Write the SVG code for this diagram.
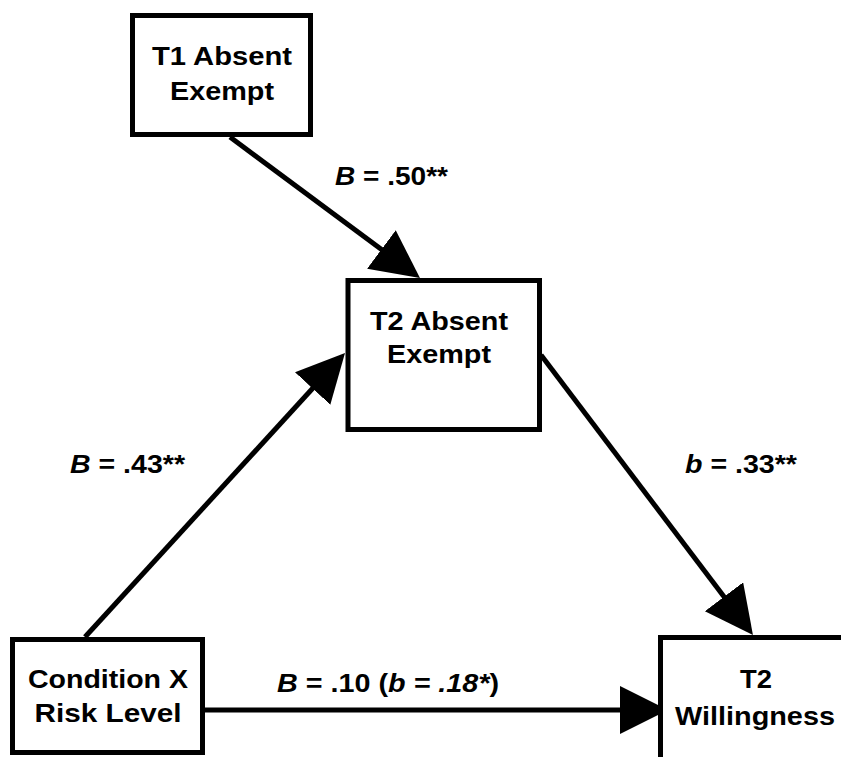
<svg xmlns="http://www.w3.org/2000/svg" width="841" height="757" viewBox="0 0 841 757">
<style>
.box{fill:#fff;stroke:#000;stroke-width:5}
.t{font-family:"Liberation Sans",Arial,sans-serif;font-weight:bold;font-size:25.5px;fill:#000}
.c{text-anchor:middle}
.i{font-style:italic}
.edge{stroke:#000;stroke-width:5;fill:none;marker-end:url(#ah)}
</style>
<defs>
<marker id="ah" markerUnits="userSpaceOnUse" markerWidth="50" markerHeight="50" refX="28" refY="24" orient="auto" viewBox="0 0 50 50">
<path d="M0,0 L48,24 L0,48 z" fill="#000"/>
</marker>
</defs>
<rect width="841" height="757" fill="#fff"/>
<g id="connectors">
<line class="edge" x1="230" y1="137" x2="403.9" y2="266.1"/>
<line class="edge" x1="85" y1="637" x2="331.5" y2="367.8"/>
<line class="edge" x1="541" y1="355" x2="740.9" y2="619.1"/>
<line class="edge" x1="205" y1="710" x2="648" y2="710"/>
</g>
<g id="node-t1">
<rect class="box" x="132.5" y="15.5" width="178" height="119"/>
<text class="t c" x="222" y="65" textLength="140" lengthAdjust="spacingAndGlyphs">T1 Absent</text>
<text class="t c" x="222" y="100" textLength="104" lengthAdjust="spacingAndGlyphs">Exempt</text>
</g>
<g id="node-t2">
<rect class="box" x="348" y="280.5" width="191.5" height="149"/>
<text class="t c" x="439" y="330" textLength="138" lengthAdjust="spacingAndGlyphs">T2 Absent</text>
<text class="t c" x="439" y="363" textLength="104" lengthAdjust="spacingAndGlyphs">Exempt</text>
</g>
<g id="node-cond">
<rect class="box" x="12.5" y="639.5" width="190" height="113"/>
<text class="t c" x="108" y="688" textLength="160" lengthAdjust="spacingAndGlyphs">Condition X</text>
<text class="t c" x="108" y="722" textLength="147" lengthAdjust="spacingAndGlyphs">Risk Level</text>
</g>
<g id="node-will">
<rect class="box" x="660.5" y="637.5" width="195" height="130"/>
<text class="t c" x="756" y="688" textLength="32" lengthAdjust="spacingAndGlyphs">T2</text>
<text class="t c" x="755" y="725" textLength="160" lengthAdjust="spacingAndGlyphs">Willingness</text>
</g>
<g id="labels">
<text class="t" x="335" y="185" textLength="113" lengthAdjust="spacingAndGlyphs"><tspan class="i">B</tspan> = .50**</text>
<text class="t" x="70" y="473" textLength="115" lengthAdjust="spacingAndGlyphs"><tspan class="i">B</tspan> = .43**</text>
<text class="t" x="685" y="473" textLength="112" lengthAdjust="spacingAndGlyphs"><tspan class="i">b</tspan> = .33**</text>
<text class="t" x="277" y="692" textLength="222" lengthAdjust="spacingAndGlyphs"><tspan class="i">B</tspan> = .10 (<tspan class="i">b = .18*</tspan>)</text>
</g>
</svg>
